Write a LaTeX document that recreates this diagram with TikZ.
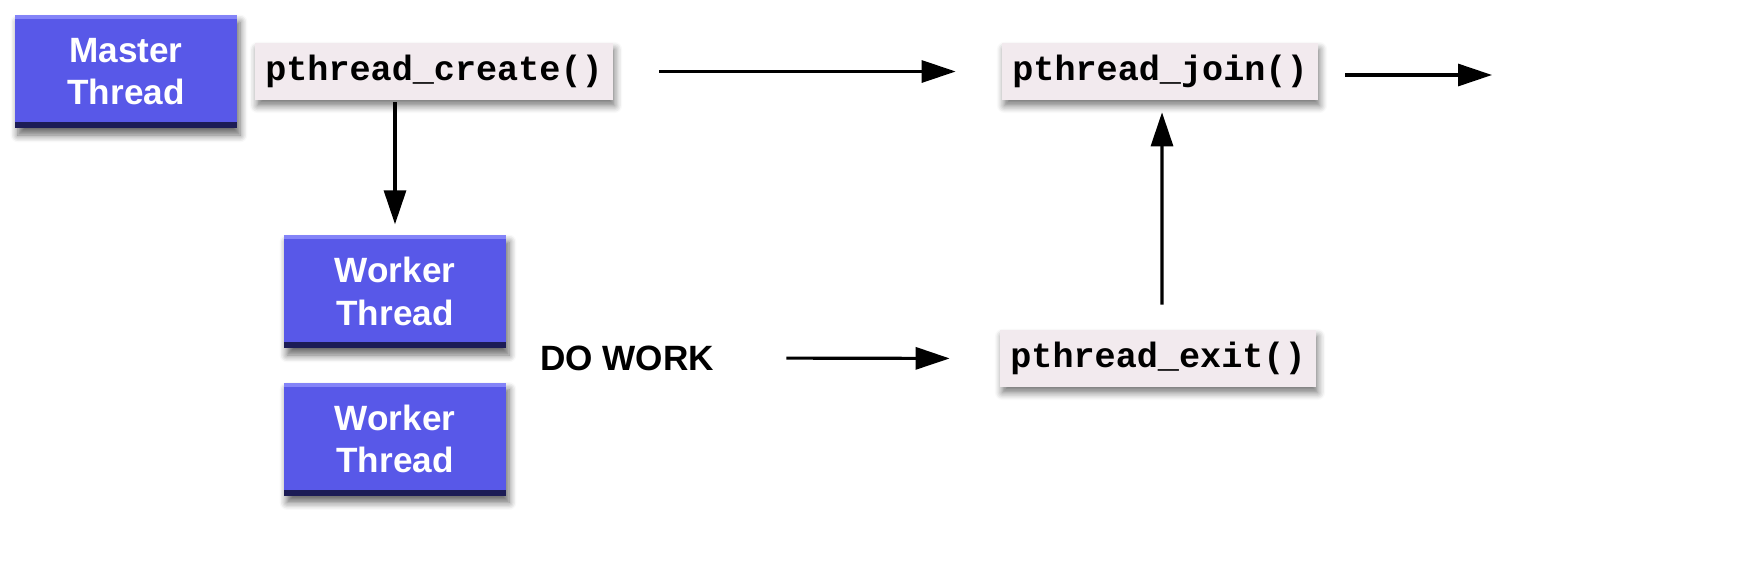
\documentclass[tikz,border=0pt]{standalone}
\usepackage{fontspec}
\setmainfont{Liberation Sans}
\setmonofont{Liberation Mono}
\usetikzlibrary{arrows.meta,shadows.blur}
\definecolor{thrblue}{RGB}{88,88,232}
\definecolor{thrdark}{RGB}{28,28,86}
\definecolor{thrlight}{RGB}{132,132,248}
\definecolor{callbg}{RGB}{242,234,238}

\begin{document}
\begin{tikzpicture}[
		thread/.style={fill=thrblue, text=white, font=\bfseries, align=center,
			minimum width=2.22cm, minimum height=1.13cm, inner sep=0pt,
			blur shadow={shadow xshift=0.03cm, shadow yshift=-0.07cm, shadow blur steps=6, shadow opacity=60},
			path picture={
				\fill[thrlight] (path picture bounding box.north west) rectangle ([yshift=-0.04cm]path picture bounding box.north east);
				\fill[thrdark] (path picture bounding box.south west) rectangle ([yshift=0.06cm]path picture bounding box.south east);}},
		call/.style={fill=callbg, font=\ttfamily\bfseries, minimum height=0.53cm, inner xsep=0.1cm,
			blur shadow={shadow xshift=0.02cm, shadow yshift=-0.06cm, shadow blur steps=6, shadow opacity=55}},
		arr/.style={line width=0.9pt, -{Triangle[length=3.4mm,width=2.2mm]}}]
		\useasboundingbox (0,0) rectangle (17.44,-5.74);

		\node[thread] (master) at (1.26,-0.715) {Master\\Thread};
		\node[call] (create) at (4.34,-0.715) {pthread\_create()};
		\node[call] (join) at (11.60,-0.715) {pthread\_join()};
		\coordinate (out) at (14.92,-0.75);

		\node[thread] (worker1) at (3.95,-2.915) {Worker\\Thread};
		\node[thread] (worker2) at (3.95,-4.39) {Worker\\Thread};
		\node[font=\bfseries] (work) at (6.27,-3.58) {DO WORK};
		\node[call] (exit) at (11.58,-3.585) {pthread\_exit()};

		\draw[arr, shorten <=0.46cm, shorten >=0.46cm] (create.east) -- (join.west);
		\draw[arr, shorten <=0.27cm] (join.east |- out) -- (out);
		\draw[arr, shorten <=0.02cm, shorten >=0.1cm] (worker1.north |- create.south) -- (worker1.north);
		\draw[arr, shorten <=0.6cm, shorten >=0.5cm] (work.east) -- (exit.west);
		\draw[arr, shorten <=0.25cm, shorten >=0.12cm] ([xshift=0.04cm]exit.north) -- ([xshift=0.02cm]join.south);

	\end{tikzpicture}
\end{document}
